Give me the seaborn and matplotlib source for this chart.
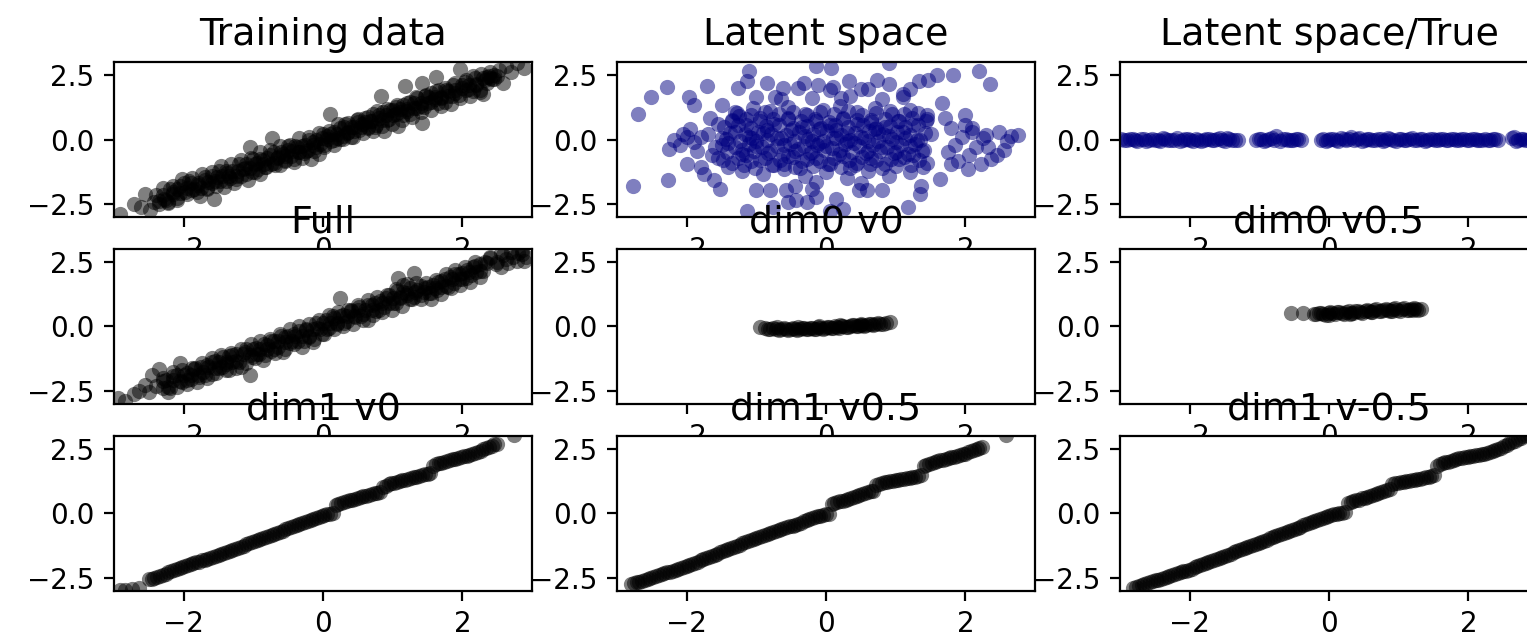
import matplotlib
matplotlib.use("Agg")
import matplotlib.pyplot as plt
import seaborn as sns
import pandas as pd

# (x, y) points, one list per panel
training_pts = [
    (-2.92, -2.88), (-2.72, -2.48), (-2.62, -2.62), (-2.55, -2.10), (-2.48, -2.72), (-2.42, -2.42),
    (-2.35, -2.50), (-2.28, -2.30), (-2.22, -2.45), (-2.15, -2.05), (-2.10, -2.25), (-2.05, -1.80),
    (-1.98, -2.02), (-1.92, -1.62), (-1.88, -1.95), (-1.80, -1.75), (-1.76, -2.20), (-1.70, -1.55),
    (-1.66, -1.90), (-1.60, -1.70), (-1.57, -2.30), (-1.52, -1.45), (-1.48, -1.62), (-1.42, -1.85),
    (-1.38, -1.30), (-1.33, -1.50), (-1.28, -1.70), (-1.22, -1.20), (-1.18, -1.42), (-1.12, -1.10),
    (-1.08, -1.55), (-1.05, -0.30), (-1.02, -1.25), (-0.98, -0.95), (-0.94, -1.15), (-0.90, -1.35),
    (-0.86, -0.80), (-0.82, -1.05), (-0.76, -0.60), (-0.74, 0.06), (-0.70, -0.90), (-0.66, -0.72),
    (-0.62, -1.00), (-0.58, -0.55), (-0.54, -0.80), (-0.50, -0.40), (-0.46, -0.65), (-0.42, -0.88),
    (-0.38, -0.30), (-0.34, -0.50), (-0.30, -0.70), (-0.26, -0.20), (-0.22, -0.42), (-0.18, -0.75),
    (-0.14, -0.10), (-0.10, -0.30), (-0.06, -0.55), (-0.02, 0.05), (0.02, -0.20), (0.06, 0.15),
    (0.10, 0.97), (0.12, -0.05), (0.16, 0.30), (0.20, 0.05), (0.24, 0.45), (0.28, 0.15),
    (0.32, 0.60), (0.36, 0.30), (0.40, 0.10), (0.44, 0.50), (0.48, 0.75), (0.52, 0.35),
    (0.56, 0.60), (0.60, 0.85), (0.64, 0.45), (0.68, 0.70), (0.72, 1.00), (0.76, 0.55),
    (0.80, 0.85), (0.83, 1.69), (0.86, 1.05), (0.88, 0.32), (0.92, 0.75), (0.96, 1.15),
    (1.00, 0.95), (1.04, 1.25), (1.08, 0.52), (1.10, 1.05), (1.15, 1.35), (1.18, 2.08),
    (1.20, 1.10), (1.25, 1.45), (1.30, 1.20), (1.35, 1.60), (1.40, 1.30), (1.42, 0.65),
    (1.42, 2.20), (1.46, 1.70), (1.50, 1.40), (1.55, 1.80), (1.60, 1.55), (1.62, 2.40),
    (1.66, 1.90), (1.70, 1.60), (1.75, 2.00), (1.80, 1.70), (1.86, 2.10), (1.90, 1.80),
    (1.96, 2.73), (2.00, 2.00), (2.05, 2.30), (2.10, 1.95), (2.15, 2.45), (2.20, 2.15),
    (2.26, 2.55), (2.30, 1.75), (2.32, 2.30), (2.36, 2.40), (2.40, 2.60), (2.46, 2.35),
    (2.52, 2.70), (2.58, 2.20), (2.62, 2.85), (2.70, 2.60), (2.78, 2.95), (2.88, 2.75),
]

# the solid black middle of the training band
training_core_pts = [
    (-2.40, -2.16), (-2.35, -2.38), (-2.30, -2.16), (-2.25, -2.36), (-2.20, -1.91), (-2.15, -2.10),
    (-2.10, -1.91), (-2.05, -2.07), (-2.00, -1.69), (-1.95, -1.87), (-1.90, -1.69), (-1.85, -1.91),
    (-1.80, -1.68), (-1.75, -1.88), (-1.70, -1.44), (-1.65, -1.63), (-1.60, -1.43), (-1.55, -1.59),
    (-1.50, -1.22), (-1.45, -1.40), (-1.40, -1.21), (-1.35, -1.43), (-1.30, -1.21), (-1.25, -1.41),
    (-1.20, -0.96), (-1.15, -1.15), (-1.10, -0.96), (-1.05, -1.12), (-1.00, -0.74), (-0.95, -0.92),
    (-0.90, -0.74), (-0.85, -0.96), (-0.80, -0.73), (-0.75, -0.93), (-0.70, -0.49), (-0.65, -0.68),
    (-0.60, -0.48), (-0.55, -0.64), (-0.50, -0.27), (-0.45, -0.45), (-0.40, -0.26), (-0.35, -0.48),
    (-0.30, -0.26), (-0.25, -0.46), (-0.20, -0.01), (-0.15, -0.20), (-0.10, -0.01), (-0.05, -0.17),
    (0.00, 0.21), (0.05, 0.03), (0.10, 0.22), (0.15, -0.01), (0.20, 0.22), (0.25, 0.02),
    (0.30, 0.47), (0.35, 0.27), (0.40, 0.47), (0.45, 0.31), (0.50, 0.69), (0.55, 0.50),
    (0.60, 0.69), (0.65, 0.47), (0.70, 0.70), (0.75, 0.49), (0.80, 0.94), (0.85, 0.75),
    (0.90, 0.95), (0.95, 0.78), (1.00, 1.16), (1.05, 0.98), (1.10, 1.17), (1.15, 0.94),
    (1.20, 1.17), (1.25, 0.97), (1.30, 1.42), (1.35, 1.22), (1.40, 1.42), (1.45, 1.26),
    (1.50, 1.64), (1.55, 1.45), (1.60, 1.64), (1.65, 1.42), (1.70, 1.65), (1.75, 1.44),
    (1.80, 1.89), (1.85, 1.70), (1.90, 1.90), (1.95, 1.73), (2.00, 2.11), (2.05, 1.93),
    (2.10, 2.12), (2.15, 1.89), (2.20, 2.12), (2.25, 1.92), (2.30, 2.37), (2.35, 2.17),
    (2.40, 2.37), (2.38, 2.45), (2.45, 2.50), (2.42, 2.35), (2.50, 2.45),
]

# points along both rims of the training band
training_edge_pts = [
    (-2.30, -1.87), (-2.23, -2.42), (-2.16, -1.79), (-2.09, -2.34), (-2.02, -1.54), (-1.95, -2.12),
    (-1.88, -1.49), (-1.81, -2.05), (-1.74, -1.33), (-1.67, -1.89), (-1.60, -1.26), (-1.53, -1.80),
    (-1.46, -1.01), (-1.39, -1.59), (-1.32, -0.95), (-1.25, -1.52), (-1.18, -0.80), (-1.11, -1.35),
    (-1.04, -0.73), (-0.97, -1.27), (-0.90, -0.48), (-0.83, -1.06), (-0.76, -0.42), (-0.69, -0.99),
    (-0.62, -0.27), (-0.55, -0.82), (-0.48, -0.20), (-0.41, -0.74), (-0.34, 0.06), (-0.27, -0.53),
    (-0.20, 0.11), (-0.13, -0.45), (-0.06, 0.26), (0.01, -0.29), (0.08, 0.34), (0.15, -0.21),
    (0.22, 0.59), (0.29, 0.01), (0.36, 0.64), (0.43, 0.08), (0.50, 0.80), (0.57, 0.24),
    (0.64, 0.87), (0.71, 0.32), (0.78, 1.12), (0.85, 0.54), (0.92, 1.17), (0.99, 0.61),
    (1.06, 1.33), (1.13, 0.77), (1.20, 1.40), (1.27, 0.86), (1.34, 1.65), (1.41, 1.07),
    (1.48, 1.71), (1.55, 1.14), (1.62, 1.86), (1.69, 1.31), (1.76, 1.93), (1.83, 1.39),
    (1.90, 2.19), (1.97, 1.60), (2.04, 2.24), (2.11, 1.67), (2.18, 2.39), (2.25, 1.84),
]

latent_pts = [
    # outer points
    (-2.70, 0.99), (-2.51, 1.64), (-2.28, 2.05), (-2.77, -1.78), (-2.27, -1.58), (-2.25, -0.35),
    (-2.18, 0.00), (-1.99, 0.10), (-1.99, -0.94), (-1.97, 1.66), (-1.90, 1.34), (-1.80, -1.06),
    (-1.71, 2.08), (-1.66, 0.82), (-1.64, -0.61), (-1.75, -1.32), (-1.61, -1.58), (-1.52, -1.91),
    (-1.49, 1.34), (-1.26, 1.99), (-1.11, 2.64), (-1.14, 2.25), (-0.85, 2.18), (-0.73, 1.66),
    (-0.62, 1.99), (-0.57, -1.97), (-0.43, -2.36), (-0.55, -2.40), (-0.31, 2.18), (-0.14, 2.83),
    (-0.12, 2.10), (0.07, 2.77), (0.10, 2.05), (0.21, 1.60), (0.33, 2.25), (0.50, 1.95),
    (0.73, 2.31), (0.90, 2.96), (0.90, 2.15), (1.11, 1.66), (1.20, 1.95), (1.33, 2.25),
    (1.47, 2.30), (1.59, 2.51), (1.82, 2.51), (2.20, 2.64), (2.35, 2.16), (1.66, 1.40),
    (1.71, 0.82), (1.99, 0.95), (2.09, 0.43), (2.30, 0.17), (2.49, 0.30), (2.75, 0.17),
    (2.33, -0.28), (2.37, -0.74), (2.23, -0.94), (2.04, -1.13), (1.80, -0.94), (1.64, -1.52),
    (1.37, -1.78), (1.35, -2.10), (1.18, -2.62), (0.81, -1.97), (0.47, -1.97), (0.59, -1.97),
    (0.14, -2.30), (0.24, -2.69), (0.05, -2.78), (-0.14, -2.23), (-0.28, -2.42), (-1.14, -2.78),
    (-1.00, -1.97), (-0.81, -1.94), (-0.76, -2.62),
    # dense core
    (-1.30, 1.05), (-1.05, 1.20), (-0.80, 1.10), (-0.55, 1.25), (-0.30, 1.00), (-0.05, 1.15),
    (0.20, 1.30), (0.45, 1.05), (0.70, 1.20), (0.95, 1.00), (1.20, 1.15), (1.45, 0.95),
    (-0.65, 1.55), (-0.20, 1.60), (0.35, 1.70), (0.80, 1.55), (1.10, 1.75), (-1.00, 1.65),
    (0.05, 1.90), (0.60, 1.95), (-0.40, 2.00),
    (-1.55, 0.60), (-1.35, 0.75), (-1.15, 0.55), (-0.95, 0.85), (-0.75, 0.60), (-0.55, 0.80),
    (-0.35, 0.50), (-0.15, 0.70), (0.05, 0.55), (0.25, 0.85), (0.45, 0.60), (0.65, 0.75),
    (0.85, 0.50), (1.05, 0.70), (1.25, 0.55), (1.45, 0.80), (-1.25, 0.90), (0.15, 0.35),
    (0.75, 0.30), (-0.85, 0.35),
    (-1.70, 0.20), (-1.50, 0.05), (-1.30, 0.30), (-1.10, 0.10), (-0.90, 0.25), (-0.70, 0.05),
    (-0.50, 0.35), (-0.30, 0.15), (-0.10, 0.40), (0.10, 0.05), (0.30, 0.25), (0.50, 0.10),
    (0.70, 0.40), (0.90, 0.15), (1.10, 0.30), (1.30, 0.00), (1.50, 0.20), (-0.20, -0.05),
    (0.60, -0.05), (1.00, -0.10), (-1.00, -0.05),
    (-1.60, -0.30), (-1.40, -0.15), (-1.20, -0.40), (-1.00, -0.25), (-0.80, -0.45), (-0.60, -0.20),
    (-0.40, -0.35), (-0.20, -0.50), (0.00, -0.25), (0.20, -0.40), (0.40, -0.15), (0.60, -0.45),
    (0.80, -0.30), (1.00, -0.50), (1.20, -0.25), (1.40, -0.40), (-0.10, -0.15), (0.30, -0.05),
    (-1.55, -0.70), (-1.35, -0.90), (-1.15, -0.60), (-0.95, -0.80), (-0.75, -1.00), (-0.55, -0.65),
    (-0.35, -0.85), (-0.15, -0.70), (0.05, -0.95), (0.25, -0.65), (0.45, -0.90), (0.65, -0.70),
    (0.85, -0.95), (1.05, -0.75), (1.25, -0.60), (1.45, -0.90), (-0.45, -1.05), (0.35, -1.10),
    (-1.20, -1.20), (-0.90, -1.35), (-0.60, -1.15), (-0.30, -1.40), (0.00, -1.25), (0.30, -1.50),
    (0.60, -1.20), (0.90, -1.40), (1.20, -1.25), (-0.15, -1.65), (-0.45, -1.80), (-0.20, -1.90),
    (0.50, -1.70),
    # side clusters
    (1.75, -0.50), (1.85, -0.20), (1.95, 0.10), (2.05, -0.60), (2.15, -0.30), (2.10, 0.30),
    (1.90, -0.85), (2.25, 0.05), (1.80, 0.45), (2.00, 0.55), (2.45, -0.60), (2.55, -0.40),
    (2.60, -0.05), (2.65, 0.15),
    (-2.10, -0.20), (-1.95, 0.40), (-1.85, -0.45), (-1.80, 0.10), (-2.05, 0.20), (-1.90, -0.10),
]

latent_core_pts = [
    (-1.40, -1.05), (-1.18, -0.98), (-1.02, -1.12), (-0.77, -1.00), (-0.61, -0.93), (-0.38, -1.10),
    (-0.19, -1.02), (0.03, -0.96), (0.22, -1.08), (0.41, -1.00), (0.63, -0.94), (0.80, -1.12),
    (1.01, -1.03), (1.22, -0.97), (1.39, -1.06),
    (-1.48, -0.78), (-1.27, -0.70), (-1.08, -0.82), (-0.88, -0.72), (-0.66, -0.80), (-0.47, -0.68),
    (-0.28, -0.77), (-0.08, -0.83), (0.12, -0.71), (0.33, -0.79), (0.52, -0.66), (0.72, -0.81),
    (0.93, -0.74), (1.12, -0.69), (1.33, -0.80),
    (-1.42, -0.48), (-1.21, -0.55), (-1.03, -0.43), (-0.83, -0.52), (-0.62, -0.58), (-0.44, -0.45),
    (-0.23, -0.53), (-0.03, -0.41), (0.18, -0.56), (0.37, -0.47), (0.58, -0.54), (0.77, -0.44),
    (0.98, -0.52), (1.17, -0.58), (1.38, -0.46),
    (-1.50, -0.22), (-1.31, -0.28), (-1.11, -0.19), (-0.92, -0.30), (-0.71, -0.24), (-0.52, -0.16),
    (-0.32, -0.27), (-0.13, -0.21), (0.08, -0.31), (0.27, -0.18), (0.47, -0.26), (0.68, -0.20),
    (0.87, -0.29), (1.08, -0.23), (1.27, -0.17),
    (-1.44, 0.03), (-1.24, -0.05), (-1.06, 0.06), (-0.85, -0.02), (-0.65, 0.04), (-0.46, -0.07),
    (-0.26, 0.02), (-0.05, -0.04), (0.14, 0.07), (0.35, -0.03), (0.54, 0.05), (0.74, -0.06),
    (0.95, 0.01), (1.14, 0.06), (1.35, -0.02),
    (-1.38, 0.27), (-1.17, 0.21), (-0.98, 0.30), (-0.79, 0.23), (-0.58, 0.19), (-0.39, 0.29),
    (-0.18, 0.22), (0.01, 0.31), (0.21, 0.18), (0.42, 0.26), (0.61, 0.32), (0.82, 0.21),
    (1.02, 0.28), (1.21, 0.19), (1.42, 0.25),
    (-1.46, 0.47), (-1.26, 0.55), (-1.07, 0.44), (-0.86, 0.52), (-0.67, 0.58), (-0.47, 0.46),
    (-0.27, 0.53), (-0.07, 0.43), (0.13, 0.56), (0.32, 0.49), (0.53, 0.57), (0.72, 0.45),
    (0.92, 0.53), (1.13, 0.47), (1.32, 0.55),
    (-1.35, 0.72), (-1.15, 0.80), (-0.95, 0.70), (-0.76, 0.78), (-0.55, 0.83), (-0.36, 0.71),
    (-0.16, 0.79), (0.04, 0.69), (0.24, 0.81), (0.44, 0.74), (0.64, 0.68), (0.84, 0.80),
    (1.04, 0.73), (1.24, 0.82), (1.44, 0.70),
    (-1.28, 1.02), (-1.08, 0.96), (-0.88, 1.08), (-0.68, 0.99), (-0.48, 1.05), (-0.28, 0.94),
    (-0.08, 1.06), (0.12, 0.98), (0.32, 1.09), (0.52, 0.95), (0.72, 1.03), (0.92, 1.10),
    (1.12, 0.97), (1.32, 1.04),
]

latent_true_pts = [
    (-2.98, 0.02), (-2.90, -0.03), (-2.82, 0.01), (-2.75, -0.04), (-2.66, 0.03), (-2.58, -0.02),
    (-2.50, 0.00), (-2.42, -0.05), (-2.35, 0.02), (-2.27, -0.01), (-2.18, 0.04), (-2.10, -0.03),
    (-2.03, 0.01), (-1.95, -0.06), (-1.88, 0.00), (-1.80, -0.03), (-1.72, 0.03), (-1.65, -0.02),
    (-1.57, 0.06), (-1.50, -0.04), (-1.43, 0.01), (-1.35, -0.02), (-1.30, 0.00), (-1.05, -0.02),
    (-0.98, 0.02), (-0.90, -0.03), (-0.82, 0.05), (-0.76, 0.12), (-0.70, -0.04), (-0.62, 0.01),
    (-0.55, -0.02), (-0.47, 0.03), (-0.40, -0.03), (-0.12, 0.00), (-0.05, -0.04), (0.02, 0.02),
    (0.10, -0.02), (0.17, 0.04), (0.25, -0.03), (0.32, 0.09), (0.40, 0.01), (0.47, -0.05),
    (0.55, 0.03), (0.62, -0.01), (0.70, 0.02), (0.78, -0.04), (0.85, 0.05), (0.92, -0.02),
    (1.00, 0.01), (1.08, -0.03), (1.15, 0.03), (1.22, -0.01), (1.30, 0.02), (1.38, -0.04),
    (1.45, 0.01), (1.52, -0.02), (1.60, 0.03), (1.68, -0.01), (1.75, 0.02), (1.82, -0.03),
    (1.90, 0.01), (1.98, -0.02), (2.05, 0.03), (2.12, -0.01), (2.20, 0.00), (2.28, -0.03),
    (2.35, 0.02), (2.43, -0.02), (2.62, 0.04), (2.68, -0.06), (2.75, 0.02), (2.82, -0.02),
    (2.90, 0.03), (2.97, -0.01),
    (-2.94, -0.01), (-2.86, 0.03), (-2.78, -0.02), (-2.70, 0.01), (-2.62, -0.04), (-2.54, 0.03),
    (-2.46, -0.01), (-2.38, 0.04), (-2.31, -0.03), (-2.22, 0.00), (-2.14, -0.04), (-2.06, 0.02),
    (-1.99, -0.02), (-1.91, 0.03), (-1.84, -0.04), (-1.76, 0.01), (-1.68, -0.03), (-1.61, 0.02),
    (-1.53, -0.01), (-1.46, 0.04), (-1.39, -0.03), (-1.01, 0.01), (-0.94, -0.04), (-0.86, 0.02),
    (-0.79, -0.02), (-0.66, 0.03), (-0.59, -0.03), (-0.51, 0.00), (-0.44, 0.02), (-0.08, 0.03),
    (-0.01, -0.01), (0.06, 0.02), (0.13, -0.04), (0.21, 0.01), (0.28, 0.03), (0.36, -0.02),
    (0.43, 0.04), (0.51, -0.01), (0.58, 0.02), (0.66, -0.03), (0.74, 0.01), (0.81, -0.01),
    (0.88, 0.03), (0.96, -0.04), (1.04, 0.02), (1.11, -0.01), (1.19, 0.04), (1.26, -0.03),
    (1.34, 0.01), (1.41, -0.02), (1.49, 0.03), (1.56, -0.01), (1.64, 0.02), (1.71, -0.03),
    (1.79, 0.01), (1.86, -0.02), (1.94, 0.03), (2.01, -0.01), (2.09, 0.02), (2.16, -0.03),
    (2.24, 0.01), (2.31, -0.02), (2.39, 0.03), (2.65, 0.08), (2.71, -0.02), (2.79, 0.01),
    (2.86, -0.03), (2.93, 0.02),
]

full_pts = [
    (-2.94, -2.78), (-2.85, -2.90), (-2.72, -2.62), (-2.64, -2.50), (-2.55, -2.25), (-2.50, -2.55),
    (-2.45, -1.87), (-2.40, -2.30), (-2.35, -1.65), (-2.30, -2.10), (-2.22, -2.35), (-2.15, -1.90),
    (-2.06, -1.42), (-2.02, -2.15), (-1.95, -1.80), (-1.90, -2.05), (-1.84, -1.60), (-1.78, -1.95),
    (-1.72, -1.75), (-1.66, -1.50), (-1.60, -1.85), (-1.55, -1.35), (-1.50, -1.60), (-1.44, -1.20),
    (-1.40, -1.45), (-1.35, -1.70), (-1.30, -1.10), (-1.25, -1.35), (-1.18, -1.55), (-1.12, -1.00),
    (-1.05, -1.87), (-1.02, -1.20), (-0.96, -0.85), (-0.92, -1.05), (-0.86, -1.30), (-0.80, -0.70),
    (-0.75, -0.95), (-0.70, -0.55), (-0.64, -0.80), (-0.58, -1.00), (-0.54, -0.40), (-0.48, -0.65),
    (-0.42, -0.30), (-0.36, -0.55), (-0.30, -0.80), (-0.25, -0.15), (-0.20, -0.40), (-0.14, -0.60),
    (-0.08, -0.05), (-0.02, -0.30), (0.04, 0.25), (0.08, -0.05), (0.14, 0.40), (0.20, 0.10),
    (0.25, 1.12), (0.28, 0.45), (0.34, 0.20), (0.40, 0.60), (0.46, 0.35), (0.52, 0.75),
    (0.58, 0.50), (0.64, 0.25), (0.70, 0.85), (0.76, 0.60), (0.82, 1.00), (0.88, 0.75),
    (0.94, 1.20), (1.00, 0.90), (1.04, 1.45), (1.08, 1.88), (1.10, 1.10), (1.15, 1.60),
    (1.20, 1.30), (1.25, 1.05), (1.30, 2.07), (1.32, 1.35), (1.40, 1.20), (1.46, 1.50),
    (1.52, 1.30), (1.58, 1.60), (1.64, 1.40), (1.70, 1.75), (1.76, 1.55), (1.82, 1.90),
    (1.88, 1.70), (1.95, 2.05), (2.00, 1.85), (2.06, 2.20), (2.12, 2.00), (2.18, 2.35),
    (2.25, 2.15), (2.32, 2.50), (2.40, 2.70), (2.48, 2.40), (2.55, 2.85), (2.62, 2.60),
    (2.70, 2.90), (2.78, 2.55), (2.85, 2.80), (2.92, 2.70),
]

full_core_pts = [
    (-2.30, -2.38), (-2.25, -2.08), (-2.20, -2.38), (-2.15, -2.08), (-2.10, -1.88), (-2.05, -2.11),
    (-2.00, -1.88), (-1.95, -2.08), (-1.90, -1.86), (-1.85, -1.66), (-1.80, -1.88), (-1.75, -1.58),
    (-1.70, -1.88), (-1.65, -1.58), (-1.60, -1.38), (-1.55, -1.61), (-1.50, -1.38), (-1.45, -1.58),
    (-1.40, -1.36), (-1.35, -1.16), (-1.30, -1.38), (-1.25, -1.08), (-1.20, -1.38), (-1.15, -1.08),
    (-1.10, -0.88), (-1.05, -1.11), (-1.00, -0.88), (-0.95, -1.08), (-0.90, -0.86), (-0.85, -0.66),
    (-0.80, -0.88), (-0.75, -0.58), (-0.70, -0.88), (-0.65, -0.58), (-0.60, -0.38), (-0.55, -0.61),
    (-0.50, -0.38), (-0.45, -0.58), (-0.40, -0.36), (-0.35, -0.16), (-0.30, -0.38), (-0.25, -0.08),
    (-0.20, -0.38), (-0.15, -0.08), (-0.10, 0.12), (-0.05, -0.11), (0.00, 0.12), (0.05, -0.08),
    (0.10, 0.14), (0.15, 0.34), (0.20, 0.12), (0.25, 0.42), (0.30, 0.12), (0.35, 0.42),
    (0.40, 0.62), (0.45, 0.39), (0.50, 0.62), (0.55, 0.42), (0.60, 0.64), (0.65, 0.84),
    (0.70, 0.62), (0.75, 0.92), (0.80, 0.62), (0.85, 0.92), (0.90, 1.12), (0.95, 0.89),
    (1.00, 1.12), (1.05, 0.92), (1.10, 1.14), (1.15, 1.34), (1.20, 1.20), (1.25, 1.47),
    (1.30, 1.14), (1.35, 1.41), (1.40, 1.58), (1.45, 1.32), (1.50, 1.52), (1.55, 1.29),
    (1.60, 1.48), (1.65, 1.72), (1.70, 1.51), (1.75, 1.82), (1.80, 1.53), (1.85, 1.84),
    (1.90, 2.05), (1.95, 1.83), (2.00, 2.07), (2.05, 1.88), (2.10, 2.11), (2.15, 2.32),
    (2.20, 2.11), (2.25, 2.42), (2.30, 2.13), (2.35, 2.44), (2.40, 2.65), (2.50, 2.50),
    (2.58, 2.75), (2.65, 2.45), (2.72, 2.68), (2.80, 2.85), (2.88, 2.55), (2.55, 2.30),
    (2.85, 2.95),
]

full_edge_pts = [
    (-2.30, -1.98), (-2.23, -2.55), (-2.16, -1.78), (-2.09, -2.35), (-2.02, -1.67), (-1.95, -2.24),
    (-1.88, -1.59), (-1.81, -2.15), (-1.74, -1.42), (-1.67, -1.99), (-1.60, -1.22), (-1.53, -1.79),
    (-1.46, -1.11), (-1.39, -1.68), (-1.32, -1.03), (-1.25, -1.59), (-1.18, -0.86), (-1.11, -1.43),
    (-1.04, -0.66), (-0.97, -1.23), (-0.90, -0.55), (-0.83, -1.12), (-0.76, -0.47), (-0.69, -1.03),
    (-0.62, -0.30), (-0.55, -0.87), (-0.48, -0.10), (-0.41, -0.67), (-0.34, 0.01), (-0.27, -0.56),
    (-0.20, 0.09), (-0.13, -0.47), (-0.06, 0.26), (0.01, -0.31), (0.08, 0.46), (0.15, -0.11),
    (0.22, 0.57), (0.29, 0.00), (0.36, 0.65), (0.43, 0.09), (0.50, 0.82), (0.57, 0.25),
    (0.64, 1.02), (0.71, 0.45), (0.78, 1.13), (0.85, 0.56), (0.92, 1.21), (0.99, 0.65),
    (1.06, 1.38), (1.13, 0.81), (1.20, 1.66), (1.27, 1.05), (1.34, 1.69), (1.41, 1.07),
    (1.48, 1.68), (1.55, 1.08), (1.62, 1.80), (1.69, 1.26), (1.76, 2.04), (1.83, 1.49),
    (1.90, 2.18), (1.97, 1.62), (2.04, 2.29), (2.11, 1.74), (2.18, 2.49), (2.25, 1.93),
]

dim0_v0_pts = [
    (-0.95, -0.02), (-0.88, -0.06), (-0.80, -0.08), (-0.72, -0.10), (-0.65, -0.09), (-0.58, -0.11),
    (-0.50, -0.10), (-0.44, -0.08), (-0.38, -0.10), (-0.32, -0.07), (-0.26, -0.09), (-0.20, -0.06),
    (-0.14, -0.08), (-0.08, -0.05), (-0.02, -0.07), (0.04, -0.03), (0.10, -0.05), (0.16, -0.01),
    (0.22, 0.00), (0.28, -0.02), (0.34, 0.02), (0.40, 0.04), (0.46, 0.02), (0.52, 0.06),
    (0.58, 0.05), (0.64, 0.08), (0.70, 0.10), (0.78, 0.09), (0.86, 0.15), (0.92, 0.18),
    (-0.70, -0.02), (-0.40, -0.03), (-0.10, 0.00), (0.20, 0.04), (0.50, 0.08),
    (-0.84, -0.11), (-0.76, -0.05), (-0.68, -0.12), (-0.61, -0.06), (-0.54, -0.13), (-0.47, -0.05),
    (-0.41, -0.12), (-0.35, -0.05), (-0.29, -0.11), (-0.23, -0.04), (-0.17, -0.10), (-0.11, -0.03),
    (-0.05, -0.09), (0.01, -0.02), (0.07, -0.07), (0.13, 0.01), (0.19, -0.04), (0.25, 0.03),
    (0.31, -0.01), (0.37, 0.05), (0.43, 0.00), (0.49, 0.07), (0.55, 0.03), (0.61, 0.09),
    (0.67, 0.06), (0.74, 0.12), (0.82, 0.11),
]

dim0_v05_pts = [
    (-0.55, 0.52), (-0.38, 0.52),
    (-0.22, 0.50), (-0.15, 0.52), (-0.08, 0.49), (-0.02, 0.53), (0.05, 0.51), (0.12, 0.55),
    (0.18, 0.52), (0.25, 0.56), (0.32, 0.54), (0.38, 0.58), (0.45, 0.56), (0.52, 0.60),
    (0.58, 0.58), (0.65, 0.62), (0.72, 0.60), (0.78, 0.64), (0.85, 0.62), (0.92, 0.66),
    (0.98, 0.63), (1.05, 0.67), (1.12, 0.65), (1.18, 0.68), (1.25, 0.66), (1.32, 0.69),
    (0.00, 0.46), (0.30, 0.50), (0.60, 0.55), (0.90, 0.59), (1.20, 0.63),
    (-0.18, 0.47), (-0.11, 0.54), (-0.05, 0.46), (0.02, 0.55), (0.08, 0.48), (0.15, 0.57),
    (0.21, 0.50), (0.28, 0.59), (0.35, 0.51), (0.42, 0.61), (0.48, 0.53), (0.55, 0.63),
    (0.62, 0.56), (0.68, 0.66), (0.75, 0.58), (0.82, 0.68), (0.88, 0.60), (0.95, 0.70),
    (1.02, 0.61), (1.08, 0.71), (1.15, 0.62), (1.22, 0.71), (1.28, 0.64),
]

dim1_v0_pts = [
    (-2.92, -2.97), (-2.84, -2.95), (-2.74, -2.92), (-2.64, -2.90),
    (-2.50, -2.55), (-2.46, -2.52), (-2.42, -2.49), (-2.38, -2.45), (-2.34, -2.42), (-2.30, -2.37),
    (-2.26, -2.33), (-2.22, -2.28), (-2.18, -2.24), (-2.14, -2.19), (-2.10, -2.15), (-2.06, -2.11),
    (-2.02, -2.07), (-1.98, -2.03), (-1.94, -2.00), (-1.90, -1.96), (-1.86, -1.93), (-1.82, -1.89),
    (-1.78, -1.86), (-1.74, -1.82), (-1.70, -1.79), (-1.66, -1.75), (-1.62, -1.71), (-1.58, -1.68),
    (-1.54, -1.64), (-1.50, -1.60), (-1.46, -1.56), (-1.42, -1.52), (-1.38, -1.48), (-1.34, -1.44),
    (-1.30, -1.40), (-1.26, -1.36), (-1.22, -1.32), (-1.18, -1.28), (-1.14, -1.24), (-1.10, -1.20),
    (-1.06, -1.16), (-1.02, -1.12), (-0.98, -1.08), (-0.94, -1.04), (-0.90, -1.00), (-0.86, -0.96),
    (-0.82, -0.92), (-0.78, -0.88), (-0.74, -0.84), (-0.70, -0.79), (-0.66, -0.75), (-0.62, -0.71),
    (-0.58, -0.67), (-0.54, -0.62), (-0.50, -0.58), (-0.46, -0.54), (-0.42, -0.50), (-0.38, -0.45),
    (-0.34, -0.41), (-0.30, -0.37), (-0.26, -0.33), (-0.22, -0.28), (-0.18, -0.24), (-0.14, -0.20),
    (-0.10, -0.16), (-0.06, -0.12), (-0.02, -0.08), (0.02, -0.05), (0.06, -0.03), (0.10, -0.01),
    (0.14, 0.01),
    (0.18, 0.32), (0.22, 0.37), (0.26, 0.41), (0.30, 0.45), (0.34, 0.48), (0.38, 0.51),
    (0.42, 0.54), (0.46, 0.57), (0.50, 0.60), (0.54, 0.63), (0.58, 0.66), (0.62, 0.69),
    (0.66, 0.72), (0.70, 0.75), (0.74, 0.78), (0.78, 0.81), (0.82, 0.84),
    (0.86, 1.02), (0.90, 1.08), (0.94, 1.13), (0.98, 1.16), (1.02, 1.19), (1.06, 1.22),
    (1.10, 1.25), (1.14, 1.28), (1.18, 1.31), (1.22, 1.34), (1.26, 1.37), (1.30, 1.40),
    (1.34, 1.43), (1.38, 1.46), (1.42, 1.49), (1.46, 1.51), (1.50, 1.54), (1.54, 1.57),
    (1.58, 1.84), (1.62, 1.90), (1.66, 1.94), (1.70, 1.97), (1.74, 2.00), (1.78, 2.03),
    (1.82, 2.06), (1.86, 2.09), (1.90, 2.12), (1.94, 2.15), (1.98, 2.18), (2.02, 2.21),
    (2.06, 2.24), (2.10, 2.27), (2.14, 2.30), (2.18, 2.34), (2.22, 2.38), (2.26, 2.43),
    (2.30, 2.48), (2.34, 2.53), (2.38, 2.58), (2.42, 2.63), (2.46, 2.67), (2.50, 2.70),
    (2.74, 3.02),
]

dim1_v05_pts = [
    (-2.80, -2.74), (-2.76, -2.71), (-2.72, -2.67), (-2.68, -2.64), (-2.64, -2.60), (-2.60, -2.57),
    (-2.56, -2.53), (-2.52, -2.50), (-2.48, -2.46), (-2.44, -2.43), (-2.40, -2.39), (-2.36, -2.35),
    (-2.32, -2.32), (-2.28, -2.28), (-2.24, -2.25), (-2.20, -2.21), (-2.16, -2.17), (-2.12, -2.14),
    (-2.08, -2.10), (-2.04, -2.07), (-2.00, -2.03), (-1.96, -1.99), (-1.92, -1.94), (-1.88, -1.90),
    (-1.84, -1.86), (-1.80, -1.81), (-1.76, -1.77), (-1.72, -1.73), (-1.68, -1.68), (-1.64, -1.64),
    (-1.60, -1.60), (-1.56, -1.55), (-1.52, -1.51), (-1.48, -1.47), (-1.44, -1.42), (-1.40, -1.38),
    (-1.36, -1.34), (-1.32, -1.29), (-1.28, -1.25), (-1.24, -1.21), (-1.20, -1.16), (-1.16, -1.12),
    (-1.12, -1.08), (-1.08, -1.03), (-1.04, -0.99), (-1.00, -0.95), (-0.96, -0.91), (-0.92, -0.87),
    (-0.88, -0.84), (-0.84, -0.80), (-0.80, -0.76), (-0.76, -0.73), (-0.72, -0.69), (-0.68, -0.65),
    (-0.64, -0.61), (-0.60, -0.58), (-0.56, -0.54), (-0.52, -0.50), (-0.48, -0.47), (-0.44, -0.43),
    (-0.40, -0.39), (-0.36, -0.35), (-0.32, -0.31), (-0.28, -0.27), (-0.24, -0.23), (-0.20, -0.19),
    (-0.16, -0.15), (-0.12, -0.11), (-0.08, -0.08), (-0.04, -0.05), (0.00, -0.03), (0.04, -0.01),
    (0.08, 0.36), (0.12, 0.40), (0.16, 0.43), (0.20, 0.47), (0.24, 0.50), (0.28, 0.54),
    (0.32, 0.57), (0.36, 0.61), (0.40, 0.64), (0.44, 0.68), (0.48, 0.71), (0.52, 0.75),
    (0.56, 0.78), (0.60, 0.82), (0.64, 0.85), (0.68, 0.88),
    (0.72, 1.12), (0.76, 1.15), (0.80, 1.18), (0.84, 1.20), (0.88, 1.23), (0.92, 1.25),
    (0.96, 1.27), (1.00, 1.29), (1.04, 1.31), (1.08, 1.33), (1.12, 1.35), (1.16, 1.37),
    (1.20, 1.39), (1.24, 1.41), (1.28, 1.43), (1.32, 1.45), (1.36, 1.47),
    (1.40, 1.84), (1.44, 1.89), (1.48, 1.93), (1.52, 1.96), (1.56, 1.99), (1.60, 2.02),
    (1.64, 2.05), (1.68, 2.08), (1.72, 2.11), (1.76, 2.14), (1.80, 2.17), (1.84, 2.20),
    (1.88, 2.23), (1.92, 2.26), (1.96, 2.29), (2.00, 2.32), (2.04, 2.36), (2.08, 2.40),
    (2.12, 2.44), (2.16, 2.48), (2.20, 2.52), (2.24, 2.56),
    (2.58, 3.02),
]

dim1_vm05_pts = [
    (-2.81, -2.87), (-2.77, -2.84), (-2.73, -2.80), (-2.69, -2.77), (-2.65, -2.73), (-2.61, -2.70),
    (-2.57, -2.66), (-2.53, -2.63), (-2.49, -2.59), (-2.45, -2.56), (-2.41, -2.52), (-2.37, -2.49),
    (-2.33, -2.45), (-2.29, -2.42), (-2.25, -2.38), (-2.21, -2.35), (-2.17, -2.31), (-2.13, -2.28),
    (-2.09, -2.24), (-2.05, -2.21), (-2.01, -2.17), (-1.97, -2.13), (-1.93, -2.09), (-1.89, -2.05),
    (-1.85, -2.00), (-1.81, -1.96), (-1.77, -1.92), (-1.73, -1.88), (-1.69, -1.84), (-1.65, -1.80),
    (-1.61, -1.76), (-1.57, -1.72), (-1.53, -1.67), (-1.49, -1.63), (-1.45, -1.59), (-1.41, -1.55),
    (-1.37, -1.51), (-1.33, -1.47), (-1.29, -1.42), (-1.25, -1.38), (-1.21, -1.34), (-1.17, -1.30),
    (-1.13, -1.26), (-1.09, -1.22), (-1.05, -1.17), (-1.01, -1.13), (-0.97, -1.09), (-0.93, -1.05),
    (-0.89, -1.01), (-0.85, -0.96), (-0.81, -0.92), (-0.77, -0.88), (-0.73, -0.84), (-0.69, -0.80),
    (-0.65, -0.76), (-0.61, -0.71), (-0.57, -0.67), (-0.53, -0.63), (-0.49, -0.59), (-0.45, -0.55),
    (-0.41, -0.51), (-0.37, -0.46), (-0.33, -0.42), (-0.29, -0.38), (-0.25, -0.34), (-0.21, -0.30),
    (-0.17, -0.26), (-0.13, -0.21), (-0.09, -0.17), (-0.05, -0.13), (-0.01, -0.09), (0.03, -0.06),
    (0.07, -0.03), (0.11, -0.01), (0.15, 0.01), (0.19, 0.03), (0.23, 0.05),
    (0.27, 0.40), (0.31, 0.44), (0.35, 0.47), (0.39, 0.51), (0.43, 0.54), (0.47, 0.58),
    (0.51, 0.61), (0.55, 0.65), (0.59, 0.68), (0.63, 0.72), (0.67, 0.75), (0.71, 0.79),
    (0.75, 0.82), (0.79, 0.86), (0.83, 0.89), (0.87, 0.93),
    (0.91, 1.13), (0.95, 1.16), (0.99, 1.18), (1.03, 1.20), (1.07, 1.22), (1.11, 1.24),
    (1.15, 1.26), (1.19, 1.28), (1.23, 1.31), (1.27, 1.33), (1.31, 1.35), (1.35, 1.37),
    (1.39, 1.40), (1.43, 1.42), (1.47, 1.45), (1.51, 1.48),
    (1.55, 1.84), (1.59, 1.90), (1.63, 1.94), (1.67, 1.98), (1.71, 2.01), (1.75, 2.04),
    (1.79, 2.07), (1.83, 2.10), (1.87, 2.13), (1.91, 2.15), (1.95, 2.18), (1.99, 2.20),
    (2.03, 2.22), (2.07, 2.24), (2.11, 2.26), (2.15, 2.28), (2.19, 2.30), (2.23, 2.32),
    (2.27, 2.35), (2.31, 2.38), (2.35, 2.41), (2.39, 2.44), (2.43, 2.48), (2.47, 2.55),
    (2.51, 2.60), (2.55, 2.65), (2.59, 2.71), (2.63, 2.76), (2.67, 2.82), (2.71, 2.87),
    (2.75, 2.93), (2.79, 2.98), (2.83, 3.03), (2.87, 3.08),
]

titles = ["Training data", "Latent space", "Latent space/True",
          "Full", "dim0 v0", "dim0 v0.5",
          "dim1 v0", "dim1 v0.5", "dim1 v-0.5"]
panel_data = [training_pts + training_core_pts + training_edge_pts,
              latent_pts + latent_core_pts, latent_true_pts,
              full_pts + full_core_pts + full_edge_pts, dim0_v0_pts, dim0_v05_pts,
              dim1_v0_pts, dim1_v05_pts, dim1_vm05_pts]
colors = ["black", "navy", "navy",
          "black", "black", "black",
          "black", "black", "black"]

# figure is a crop of a bigger 3x3 grid, right column runs off the edge
fig, axes = plt.subplots(3, 3, figsize=(1527 / 200, 643 / 200), dpi=200)
fig.subplots_adjust(left=0.0747, right=1.0072, bottom=0.0809, top=0.9036,
                    wspace=0.2033, hspace=0.206)

for ax, pts, title, col in zip(axes.flat, panel_data, titles, colors):
    df = pd.DataFrame(pts, columns=["x", "y"])
    sns.scatterplot(data=df, x="x", y="y", ax=ax, color=col, alpha=0.5,
                    s=30, linewidth=0, legend=False)
    ax.set_xlim(-3, 3)
    ax.set_ylim(-3, 3)
    ax.set_xticks([-2, 0, 2])
    ax.set_yticks([-2.5, 0, 2.5])
    ax.set_xlabel("")
    ax.set_ylabel("")
    # titles sit over the tick labels of the row above, as in the reference
    ax.set_title(title, fontsize=13.7)

fig.savefig("out.png", dpi=200, facecolor="white")
